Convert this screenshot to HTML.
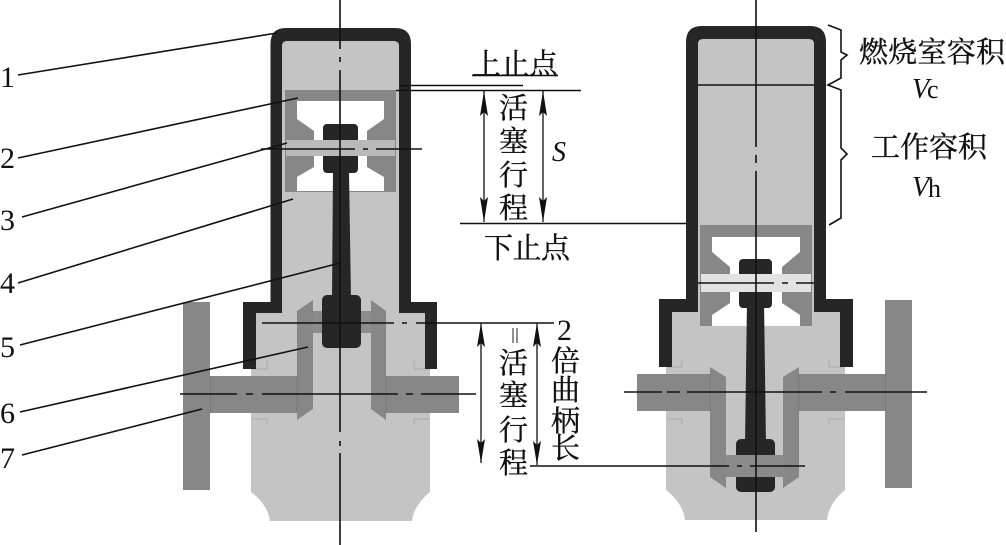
<!DOCTYPE html>
<html><head><meta charset="utf-8"><style>
html,body{margin:0;padding:0;background:#fff;width:1006px;height:545px;overflow:hidden}
svg{display:block}
.c{font-family:"Noto Serif CJK SC","Liberation Serif",serif;font-size:29px;fill:#111;stroke:#111;stroke-width:.35}
.n{font-family:"Liberation Serif",serif;font-size:30px;fill:#111}
.i{font-family:"Liberation Serif",serif;font-style:italic;font-size:28px;fill:#111}
.l{stroke:#111;stroke-width:1.6;fill:none}
.s{stroke:#111;stroke-width:1.300;fill:none}
.h{fill:#111;stroke:none}
</style></head><body>
<svg width="1006" height="545" viewBox="0 0 1006 545" xmlns="http://www.w3.org/2000/svg">
<rect width="1006" height="545" fill="#fff"/>

<!-- LEFT ENGINE -->
<path d="M282 41H399V312H425V369H430V492Q414 505 412 521H270Q268 505 251 492V369H256V312H282Z" fill="#c4c4c4"/>
<path d="M183 302H210V376H297V311L313 300V409L297 420V413H210V490H183Z" fill="#878787"/>
<path d="M313 311H371V333H313Z" fill="#8c8c8c"/>
<path d="M371 300L386 311V376H459V413H386V420L371 409Z" fill="#878787"/>
<path d="M210.500 376V413M297 376V413M386 376V413" stroke="#787878" stroke-width="1" fill="none"/>
<path d="M267 360V369H252M267 425V419H252M414 360V369H430M414 425V419H430" stroke="#aaa" stroke-width="1" fill="none"/>
<!-- wall -->
<path d="M282 313V46Q282 41 287 41H394Q399 41 399 46V313H425V369H437V302H411V44Q411 28 395 28H286Q270.5 28 270.5 44V302H243V369H256V313Z" fill="#262626"/>
<!-- piston -->
<rect x="285" y="90" width="111" height="102" fill="#878787"/>
<path d="M297 101H384V119L367 131V141H314V131L297 119Z" fill="#fff"/>
<path d="M314 155V167L297 177V191H384V177L367 167V155Z" fill="#fff"/>
<!-- rod -->
<path d="M333 170H349L351 300H332Z" fill="#262626"/>
<rect x="323" y="124" width="35" height="49" rx="4" fill="#262626"/>
<rect x="286" y="140" width="109" height="16" fill="#b9b9b9"/>
<rect x="322" y="295" width="39" height="53" rx="5" fill="#262626"/>

<!-- RIGHT ENGINE -->
<path d="M698 39H814V311H840V367H845V490Q829 503 827 520H685Q683 503 666 490V367H672V311H698Z" fill="#c4c4c4"/>
<path d="M637 374H710V367L726 377V488L710 477V411H637Z" fill="#878787"/>
<path d="M799 367L783 377V488L799 477V411H885V488H912V300H885V374H799Z" fill="#878787"/>
<path d="M710 374V411M799 374V411M885.500 374V411" stroke="#787878" stroke-width="1" fill="none"/>
<path d="M682 359V367H667M682 425V419H667M829 359V367H845M829 425V419H845" stroke="#aaa" stroke-width="1" fill="none"/>
<path d="M698 312V44Q698 39 703 39H809Q814 39 814 44V312H840V367H853V299H826V42Q826 26 810 26H702Q686 26 686 42V299H659V367H672V312Z" fill="#262626"/>
<rect x="700" y="225" width="112" height="101" fill="#878787"/>
<path d="M712 237H800V252L782 267V275H730V267L712 252Z" fill="#fff"/>
<path d="M730 291V303L712 315V326H800V315L782 303V291Z" fill="#fff"/>
<path d="M747 300H764L766 445H745Z" fill="#262626"/>
<rect x="739" y="259" width="33" height="49" rx="4" fill="#262626"/>
<rect x="701" y="274" width="110" height="18" fill="#e2e2e2"/>
<rect x="736" y="439" width="39" height="53" rx="5" fill="#262626"/>
<rect x="725" y="455" width="60" height="22" fill="#8a8a8a"/>

<!-- centre lines -->
<path class="l" d="M340 0V49M340 57V62M340 70V432M340 441V446M340 453V545"/>
<path class="l" d="M261 149H355M363 149H368M376 149H422"/>
<path class="l" d="M262 323H394M402 323H407M416 323H554"/>
<path class="l" d="M180 394H237M246 394H253M262 394H398M406 394H413M421 394H476"/>
<path class="l" d="M756 0V147M756 155V163M756 171V532"/>
<path class="l" d="M698 283H774M782 283H788M796 283H814"/>
<path class="l" d="M624 392H662M667 392H680M687 392H822M830 392H836M845 392H927"/>
<path class="l" d="M530 466H729M737 466H742M750 466H805"/>
<path class="l" d="M698 85H814"/>

<!-- reference lines -->
<path class="l" d="M400 85.500H523M396 90.500H581"/>
<path class="l" d="M472 75.500H558"/>
<path class="l" d="M460 223.500H686"/>

<!-- leaders -->
<path class="l" d="M18 75L277 33M18 158L298 98M22 217L287 143M18 283L293 199M20 345L340 263M20 412L308 347M22 455L202 409"/>

<!-- arrows -->
<path class="s" d="M484 91V222M543 91V222M481 323V463M537 323V465"/>
<path class="h" d="M484 91L488 116L484 112L480 116Z M484 222L488 197L484 201L480 197Z"/>
<path class="h" d="M543 91L547 116L543 112L539 116Z M543 222L547 197L543 201L539 197Z"/>
<path class="h" d="M481 323L485 347L481 343L477 347Z M481 463L485 439L481 443L477 439Z"/>
<path class="h" d="M537 323L541 347L537 343L533 347Z M537 465L541 441L537 445L533 441Z"/>
<path d="M513 328V343M517 328V343" stroke="#555" stroke-width="1.300" fill="none"/>

<!-- braces -->
<path d="M828 25L841 30V52L847 55L841 60V78L828 85L841 90V148L847 154L841 160V218L829 225" stroke="#111" stroke-width="1.600" fill="none"/>

<!-- numbers -->
<text class="n" x="0" y="87">1</text>
<text class="n" x="0" y="168">2</text>
<text class="n" x="0" y="230">3</text>
<text class="n" x="0" y="293">4</text>
<text class="n" x="0" y="357">5</text>
<text class="n" x="0" y="423">6</text>
<text class="n" x="0" y="468">7</text>

<!-- labels -->
<text class="c" x="472" y="74" textLength="86">上止点</text>
<text class="c" x="484" y="258" textLength="86">下止点</text>
<text class="c" x="499" y="118">活</text>
<text class="c" x="499" y="151">塞</text>
<text class="c" x="499" y="185">行</text>
<text class="c" x="499" y="218">程</text>
<text class="i" x="552" y="161">S</text>
<text class="n" x="557" y="340">2</text>
<text class="c" x="499" y="373">活</text>
<text class="c" x="499" y="405">塞</text>
<text class="c" x="499" y="440">行</text>
<text class="c" x="499" y="473">程</text>
<text class="c" x="551" y="371">倍</text>
<text class="c" x="551" y="400">曲</text>
<text class="c" x="551" y="431">柄</text>
<text class="c" x="551" y="458">长</text>
<text class="c" x="859" y="62" textLength="146">燃烧室容积</text>
<text class="i" x="912" y="98">V</text>
<text class="n" x="927" y="98" style="font-size:26px">c</text>
<text class="c" x="871" y="157" textLength="116">工作容积</text>
<text class="i" x="912" y="196">V</text>
<text class="n" x="928" y="197" style="font-size:26px">h</text>
</svg>
</body></html>
